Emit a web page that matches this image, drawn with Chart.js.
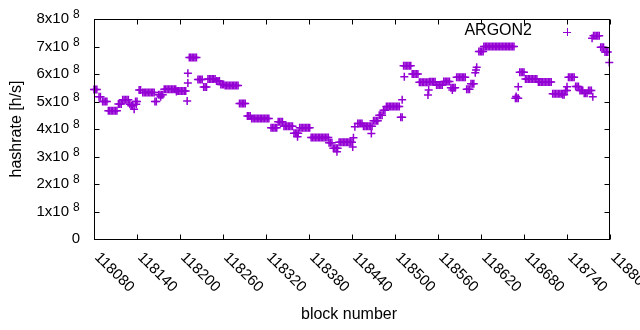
<!DOCTYPE html>
<html>
<head>
<meta charset="utf-8">
<script src="https://cdn.jsdelivr.net/npm/chart.js@4.4.1/dist/chart.umd.min.js"></script>
<style>
    body { margin: 0; background: #fff; }
    #wrap { width: 640px; height: 330px; }
</style>
</head>
<body>
<div id="wrap"><canvas id="hashChart" width="640" height="330"></canvas></div>
<script>
// block numbers (x) and hashrate in units of 10^8 h/s (y)
const blocks = [
    118080, 118082, 118084,
    118087, 118089,
    118092, 118094, 118096, 118098,
    118100, 118102, 118104, 118106, 118108, 118110, 118112,
    118114, 118116, 118118,
    118120, 118122, 118124, 118126, 118128,
    118130, 118132, 118134, 118136,
    118138, 118139, 118140,
    118143, 118145,
    118148, 118150, 118152, 118154, 118156, 118158, 118160, 118162, 118164,
    118165, 118167,
    118170, 118172, 118173, 118174, 118176,
    118178, 118180, 118182, 118184, 118186, 118188, 118190, 118192, 118194, 118195,
    118196, 118198, 118200, 118202, 118204, 118206, 118208,
    118210, 118211, 118211,
    118213, 118215, 118217, 118219, 118221, 118223,
    118225, 118227, 118229, 118231,
    118233, 118235, 118237,
    118239, 118241, 118243, 118245, 118247, 118249,
    118251, 118253, 118255,
    118257, 118259, 118261,
    118263, 118265, 118267, 118269, 118271, 118273, 118275, 118277, 118279, 118281,
    118283, 118285, 118287, 118289, 118291,
    118294, 118296, 118298,
    118300, 118302, 118304, 118306, 118308, 118310, 118312, 118314, 118316, 118318, 118320, 118322, 118324,
    118327, 118329, 118331, 118333, 118335,
    118337, 118339, 118341, 118343,
    118345, 118347, 118349, 118351, 118353, 118355, 118357,
    118359, 118361, 118363, 118364, 118365,
    118367, 118369, 118371, 118373, 118375, 118377, 118379, 118381,
    118383, 118385, 118387, 118389, 118391, 118393, 118395, 118397, 118399, 118401, 118403, 118405, 118407,
    118408, 118410, 118412,
    118414, 118416, 118418, 118419, 118420,
    118422, 118424, 118426, 118428, 118430, 118432, 118434, 118436, 118438, 118440,
    118441, 118442,
    118444,
    118448, 118450, 118452, 118454,
    118456, 118458, 118460, 118462, 118464, 118466, 118468,
    118467,
    118470, 118472, 118474, 118476,
    118478, 118480, 118482,
    118484, 118486,
    118488, 118490, 118492, 118494, 118496, 118498, 118500, 118502, 118504, 118506,
    118508, 118510, 118510,
    118512, 118513, 118514, 118516, 118518, 118520, 118522,
    118524, 118526, 118528, 118530, 118532,
    118534, 118536, 118538, 118540, 118542, 118544, 118546,
    118546, 118547,
    118548, 118550, 118552, 118554, 118556,
    118558, 118560, 118562, 118564, 118566,
    118568, 118570, 118572, 118574, 118576,
    118578, 118580, 118580, 118582, 118584,
    118586, 118588, 118590, 118592, 118594, 118596, 118598,
    118600, 118602, 118604,
    118606, 118608, 118610,
    118612, 118613, 118614,
    118617, 118619, 118621, 118623,
    118624, 118626, 118628, 118630, 118632, 118634, 118636, 118638, 118640, 118642, 118644,
    118646, 118648, 118650, 118652, 118654, 118656, 118658, 118660, 118662, 118664, 118666,
    118668, 118669, 118670, 118672, 118672,
    118674, 118676, 118678, 118680,
    118682, 118684, 118686, 118688, 118690, 118692, 118694, 118696, 118698,
    118700, 118702, 118704, 118706, 118708, 118710, 118712, 118714, 118716, 118718,
    118720, 118722, 118724, 118726, 118728, 118730, 118732,
    118734, 118736,
    118738, 118740, 118740,
    118742, 118744, 118746, 118748, 118750,
    118752, 118754, 118756,
    118758, 118760, 118762,
    118764, 118766, 118768,
    118770, 118772, 118774, 118776,
    118775,
    118777, 118779, 118781, 118783, 118785,
    118787, 118789, 118791,
    118793, 118795, 118797,
    118799
];

const hashrate = [
    5.44, 5.44, 5.44,
    5.17, 5.17,
    5.0, 5.0, 5.0, 5.0,
    4.66, 4.66, 4.66, 4.66, 4.66, 4.66, 4.66,
    4.91, 4.91, 4.91,
    5.06, 5.06, 5.06, 5.06, 5.06,
    4.9, 4.85, 4.85, 4.72,
    5.0, 4.9, 5.0,
    5.42, 5.42,
    5.33, 5.33, 5.33, 5.33, 5.33, 5.33, 5.33, 5.33, 5.33,
    5.0, 5.0,
    5.25, 5.25, 5.17, 5.25, 5.25,
    5.45, 5.45, 5.45, 5.45, 5.45, 5.45, 5.45, 5.45, 5.45, 5.36,
    5.38, 5.38, 5.38, 5.38, 5.38, 5.38, 5.38,
    5.02, 5.67, 6.03,
    6.6, 6.6, 6.6, 6.6, 6.6, 6.6,
    5.8, 5.8, 5.8, 5.8,
    5.53, 5.53, 5.53,
    5.82, 5.82, 5.82, 5.82, 5.82, 5.82,
    5.75, 5.75, 5.75,
    5.62, 5.62, 5.62,
    5.58, 5.58, 5.58, 5.58, 5.58, 5.58, 5.58, 5.58, 5.58, 5.58,
    4.93, 4.93, 4.93, 4.93, 4.93,
    4.47, 4.47, 4.47,
    4.38, 4.38, 4.38, 4.38, 4.38, 4.38, 4.38, 4.38, 4.38, 4.38, 4.38, 4.38, 4.38,
    4.05, 4.05, 4.05, 4.05, 4.05,
    4.26, 4.26, 4.26, 4.26,
    4.1, 4.1, 4.1, 4.1, 4.1, 4.1, 4.1,
    3.85, 3.85, 3.85, 3.72, 3.85,
    4.05, 4.05, 4.05, 4.05, 4.05, 4.05, 4.05, 4.05,
    3.69, 3.69, 3.69, 3.69, 3.69, 3.69, 3.69, 3.69, 3.69, 3.69, 3.69, 3.69, 3.69,
    3.5, 3.5, 3.5,
    3.3, 3.3, 3.3, 3.17, 3.3,
    3.52, 3.52, 3.52, 3.52, 3.52, 3.52, 3.52, 3.52, 3.52, 3.52,
    3.35, 3.68,
    4.08,
    4.2, 4.2, 4.2, 4.2,
    4.1, 4.1, 4.1, 4.1, 4.1, 4.1, 4.1,
    3.84,
    4.3, 4.3, 4.3, 4.3,
    4.5, 4.5, 4.5,
    4.68, 4.68,
    4.82, 4.82, 4.82, 4.82, 4.82, 4.82, 4.82, 4.82, 4.82, 4.82,
    4.43, 4.43, 5.06,
    6.3, 5.9, 6.3, 6.3, 6.3, 6.3, 6.3,
    6.0, 6.0, 6.0, 6.0, 6.0,
    5.7, 5.7, 5.7, 5.7, 5.7, 5.7, 5.7,
    5.24, 5.42,
    5.72, 5.72, 5.72, 5.72, 5.72,
    5.6, 5.6, 5.6, 5.6, 5.6,
    5.73, 5.73, 5.73, 5.73, 5.73,
    5.5, 5.5, 5.42, 5.5, 5.5,
    5.88, 5.88, 5.88, 5.88, 5.88, 5.88, 5.88,
    5.45, 5.45, 5.45,
    5.65, 5.65, 5.65,
    6.05, 6.15, 6.25,
    6.82, 6.82, 6.82, 6.82,
    7.0, 7.0, 7.0, 7.0, 7.0, 7.0, 7.0, 7.0, 7.0, 7.0, 7.0,
    7.0, 7.0, 7.0, 7.0, 7.0, 7.0, 7.0, 7.0, 7.0, 7.0, 7.0,
    5.12, 5.18, 5.12, 5.12, 5.54,
    6.06, 6.06, 6.06, 6.06,
    5.82, 5.82, 5.82, 5.82, 5.82, 5.82, 5.82, 5.82, 5.82,
    5.71, 5.71, 5.71, 5.71, 5.71, 5.71, 5.71, 5.71, 5.71, 5.71,
    5.28, 5.28, 5.28, 5.28, 5.28, 5.28, 5.28,
    5.25, 5.25,
    5.4, 5.4, 5.54,
    5.88, 5.88, 5.88, 5.88, 5.88,
    5.55, 5.55, 5.55,
    5.4, 5.4, 5.4,
    5.3, 5.3, 5.3,
    5.4, 5.4, 5.4, 5.17,
    7.3,
    7.39, 7.39, 7.39, 7.39, 7.39,
    6.97, 6.97, 6.97,
    6.8, 6.8, 6.8,
    6.42
];

// axis ticks
const xTicks = [118080, 118140, 118200, 118260, 118320, 118380, 118440, 118500, 118560, 118620, 118680, 118740, 118800];
const yTicks = [0, 1, 2, 3, 4, 5, 6, 7, 8];

const seriesLabel = 'ARGON2';
const seriesColor = '#9400d3';
const FONT = "'Liberation Sans', Arial, sans-serif";

const points = blocks.map(function(b, i) {
    return { x: b, y: hashrate[i] };
});

// gnuplot-like frame: border, inward ticks, labels, titles, key
const frame = {
    id: 'frame',
    afterDraw(chart) {
        const ctx = chart.ctx;
        const area = chart.chartArea;
        const xs = chart.scales.x;
        const ys = chart.scales.y;
        const L = Math.round(area.left) + 0.5;
        const R = Math.round(area.right) - 0.5;
        const T = Math.round(area.top) + 0.5;
        const B = Math.round(area.bottom) + 0.5;

        ctx.save();
        ctx.strokeStyle = '#000';
        ctx.lineWidth = 1;
        ctx.strokeRect(L, T, R - L, B - T);

        ctx.beginPath();
        xTicks.forEach(function(v) {
            const px = Math.round(xs.getPixelForValue(v)) + 0.5;
            ctx.moveTo(px, B); ctx.lineTo(px, B - 5);
            ctx.moveTo(px, T); ctx.lineTo(px, T + 5);
        });
        yTicks.forEach(function(v) {
            const py = Math.round(ys.getPixelForValue(v)) + 0.5;
            ctx.moveTo(L, py); ctx.lineTo(L + 5, py);
            ctx.moveTo(R, py); ctx.lineTo(R - 5, py);
        });
        ctx.stroke();

        ctx.fillStyle = '#000';
        // y tick labels  Nx10^8
        yTicks.forEach(function(v) {
            const py = ys.getPixelForValue(v);
            ctx.textBaseline = 'middle';
            if (v === 0) {
                ctx.font = '15px ' + FONT;
                ctx.textAlign = 'right';
                ctx.fillText('0', 80, py);
                return;
            }
            ctx.font = '15px ' + FONT;
            ctx.textAlign = 'right';
            ctx.fillText(v + 'x10', 69, py);
            ctx.font = '12px ' + FONT;
            ctx.textAlign = 'left';
            ctx.fillText('8', 73, py - 4);
        });

        // x tick labels, rotated clockwise
        ctx.font = '15px ' + FONT;
        ctx.textAlign = 'left';
        ctx.textBaseline = 'middle';
        xTicks.forEach(function(v) {
            const px = xs.getPixelForValue(v);
            ctx.save();
            ctx.translate(px + 3, 255);
            ctx.rotate(Math.PI / 4);
            ctx.fillText(String(v), 0, 0);
            ctx.restore();
        });

        // axis titles
        ctx.font = '16px ' + FONT;
        ctx.textAlign = 'center';
        ctx.fillText('block number', 349, 315);
        ctx.save();
        ctx.translate(17, (area.top + area.bottom) / 2);
        ctx.rotate(-Math.PI / 2);
        ctx.fillText('hashrate [h/s]', 0, 0);
        ctx.restore();

        // key
        ctx.textAlign = 'right';
        ctx.fillText(chart.data.datasets[0].label, 532, 31);
        ctx.strokeStyle = seriesColor;
        ctx.beginPath();
        ctx.moveTo(563, 32.5); ctx.lineTo(571, 32.5);
        ctx.moveTo(567.5, 28); ctx.lineTo(567.5, 36);
        ctx.stroke();
        ctx.restore();
    }
};

const chart = new Chart(document.getElementById('hashChart'), {
    type: 'scatter',
    data: {
        datasets: [{
            label: seriesLabel,
            data: points,
            pointStyle: 'cross',
            pointRadius: 4,
            pointHoverRadius: 4,
            borderColor: seriesColor,
            backgroundColor: seriesColor,
            borderWidth: 1.5,
            clip: false
        }]
    },
    options: {
        responsive: false,
        animation: false,
        events: [],
        layout: {
            padding: { left: 94, right: 30, top: 19, bottom: 91 }
        },
        plugins: {
            legend: { display: false },
            tooltip: { enabled: false }
        },
        scales: {
            x: {
                type: 'linear',
                display: false,
                min: 118080,
                max: 118800
            },
            y: {
                display: false,
                min: 0,
                max: 8
            }
        }
    },
    plugins: [frame]
});
</script>
</body>
</html>
